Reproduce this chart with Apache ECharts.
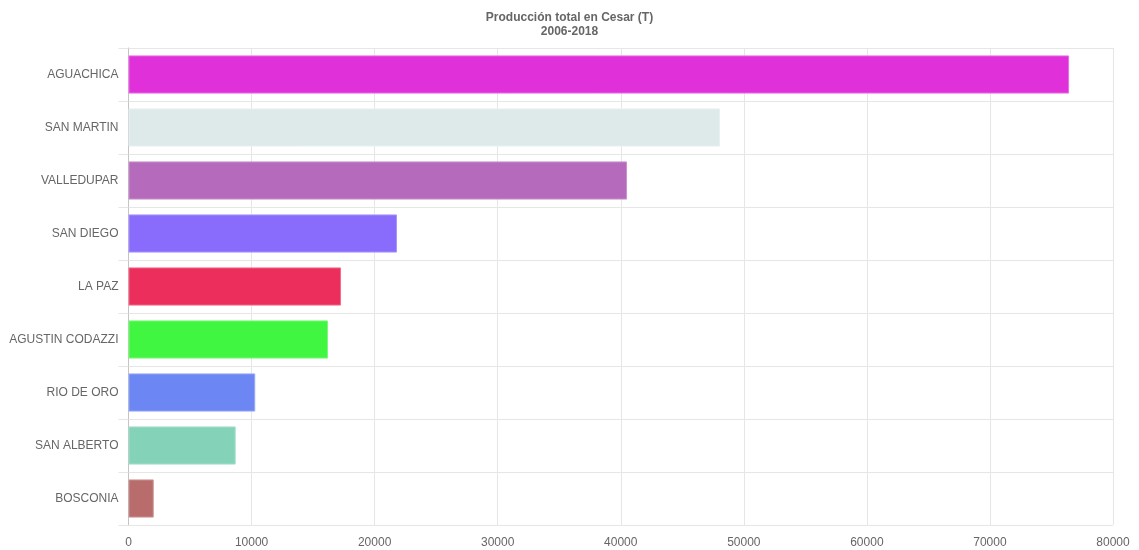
<!DOCTYPE html>
<html>
<head>
<meta charset="utf-8">
<script src="https://cdn.jsdelivr.net/npm/echarts@6/dist/echarts.min.js"></script>
<style>
html,body{margin:0;padding:0;background:#fff;}
#chart{width:1139px;height:550px;}
</style>
</head>
<body>
<div id="chart"></div>
<script>
const titleText = 'Producción total en Cesar (T)';
const subtitleText = '2006-2018';
const categories = ['AGUACHICA','SAN MARTIN','VALLEDUPAR','SAN DIEGO','LA PAZ','AGUSTIN CODAZZI','RIO DE ORO','SAN ALBERTO','BOSCONIA'];
const values = [76430, 48070, 40510, 21820, 17270, 16210, 10300, 8710, 2050];
const colors = ['#e030da','#deeaea','#b56abb','#8a6cfd','#ec2e5c','#40f640','#6c86f3','#84d3b8','#b86c6c'];
const borderColors = ['#ea6ee6','#e8f1f1','#c894cc','#a896fd','#f26c8c','#7cf87c','#98aaf6','#a6dfcb','#cc9696'];

const chart = echarts.init(document.getElementById('chart'), null, {renderer: 'canvas'});
const gridColor = '#e6e6e6';
const font = 'Liberation Sans, Arial, sans-serif';
chart.setOption({
  animation: false,
  title: {
    text: titleText + '\n' + subtitleText,
    left: 'center',
    top: 6,
    textStyle: {fontFamily: font, fontSize: 12, fontWeight: 'bold', color: '#666', lineHeight: 14}
  },
  grid: {left: 128.5, right: 26, top: 48, bottom: 25, containLabel: false},
  xAxis: {
    type: 'value',
    min: 0, max: 80000, interval: 10000,
    axisLine: {show: false},
    axisTick: {show: false},
    axisLabel: {color: '#666', fontSize: 12, fontFamily: font, margin: 12, formatter: v => String(v)},
    splitLine: {show: true, lineStyle: {color: gridColor, width: 1}}
  },
  yAxis: {
    type: 'category',
    data: categories,
    inverse: true,
    boundaryGap: true,
    axisLine: {show: true, lineStyle: {color: '#c4c4c4', width: 1}},
    axisTick: {show: true, length: 10, interval: 0, lineStyle: {color: gridColor}},
    axisLabel: {color: '#666', fontSize: 12, fontFamily: font, margin: 10, interval: 0},
    splitLine: {show: true, interval: 0, lineStyle: {color: gridColor, width: 1}}
  },
  series: [{
    type: 'bar',
    barCategoryGap: '28%',
    data: values.map((v, i) => ({
      value: v,
      itemStyle: {color: colors[i], borderColor: borderColors[i], borderWidth: 1}
    }))
  }]
});
</script>
</body>
</html>
